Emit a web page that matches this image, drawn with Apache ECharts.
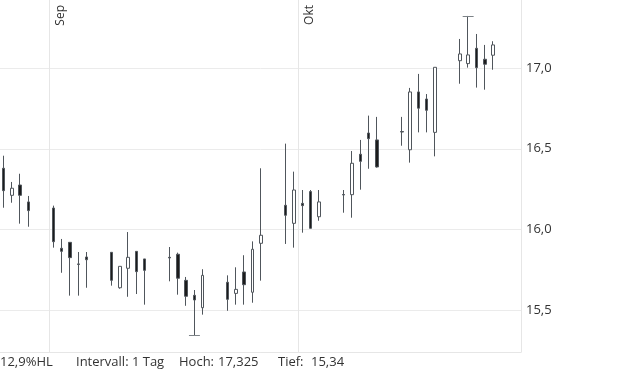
<!DOCTYPE html>
<html>
<head>
<meta charset="utf-8">
<script src="https://cdn.jsdelivr.net/npm/echarts@6/dist/echarts.min.js"></script>
<style>html,body{margin:0;padding:0;background:#fff}#c{width:620px;height:372px}</style>
</head>
<body>
<div id="c"></div>
<script>
// Trading days (categories)
const dates = [
  '2025-08-26','2025-08-27','2025-08-28','2025-08-29',
  '2025-09-01','2025-09-02','2025-09-03','2025-09-04','2025-09-05',
  '2025-09-08','2025-09-09','2025-09-10','2025-09-11','2025-09-12',
  '2025-09-15','2025-09-16','2025-09-17','2025-09-18','2025-09-19',
  '2025-09-22','2025-09-23','2025-09-24','2025-09-25','2025-09-26',
  '2025-09-29','2025-09-30','2025-10-01','2025-10-02','2025-10-03',
  '2025-10-06','2025-10-07','2025-10-08','2025-10-09','2025-10-10',
  '2025-10-13','2025-10-14','2025-10-15','2025-10-16','2025-10-17',
  '2025-10-20','2025-10-21','2025-10-22','2025-10-23','2025-10-24'
];
const openVals = [
  16.379,16.211,16.275,16.170,
  16.132,15.882,15.919,15.785,15.828,
  15.857,15.637,15.758,15.863,15.816,
  15.826,15.845,15.683,15.590,15.513,
  15.671,15.602,15.735,15.609,15.913,
  16.149,16.037,16.161,16.234,16.078,
  16.216,16.215,16.466,16.598,16.555,
  16.607,16.494,16.853,16.809,16.602,
  17.047,17.029,17.124,17.056,17.081
];
const closeVals = [
  16.240,16.255,16.211,16.116,
  15.923,15.863,15.824,15.782,15.811,
  15.683,15.770,15.826,15.737,15.745,
  15.822,15.696,15.584,15.561,15.714,
  15.565,15.627,15.656,15.876,15.963,
  16.087,16.244,16.147,16.006,16.170,
  16.213,16.410,16.422,16.563,16.387,
  16.604,16.853,16.752,16.739,17.006,
  17.089,17.083,17.004,17.025,17.145
];
const lowVals = [
  16.134,16.165,16.035,16.016,
  15.886,15.730,15.588,15.588,15.637,
  15.650,15.631,15.581,15.598,15.532,
  15.677,15.594,15.525,15.340,15.470,
  15.494,15.532,15.532,15.544,15.681,
  15.909,15.886,15.979,16.006,16.053,
  16.103,16.072,16.246,16.376,16.383,
  16.519,16.414,16.602,16.602,16.453,
  16.904,17.004,16.880,16.867,16.991
];
const highVals = [
  16.457,16.294,16.345,16.207,
  16.147,15.940,15.919,15.859,15.859,
  15.857,15.770,15.983,15.863,15.816,
  15.890,15.855,15.704,15.623,15.752,
  15.714,15.764,15.839,15.925,16.379,
  16.532,16.358,16.244,16.244,16.244,
  16.244,16.486,16.555,16.706,16.698,
  16.698,16.878,16.965,16.840,17.006,
  17.182,17.325,17.213,17.145,17.168
];
const monthStarts = ['2025-09-01','2025-10-01'];
const monthLabels = ['Sep','Okt'];
const yTicks = [15.5, 16.0, 16.5, 17.0];
const infoTexts = ['12,9%HL','Intervall: 1 Tag','Hoch:','17,325','Tief:','15,34'];
const highLow = { high: 17.325, highDate: '2025-10-21', low: 15.34, lowDate: '2025-09-18' };

const DAY = 86400000;
const ts = d => Date.parse(d + 'T00:00:00Z');
const candleData = dates.map((d, i) => [ts(d) + DAY / 2, openVals[i], closeVals[i], lowVals[i], highVals[i]]);
const xMin = ts('2025-09-01') - 5.94 * DAY;
const xMax = xMin + 62.81 * DAY;

const capHalf = 0.66 * DAY;
const markData = monthStarts.map((d, i) => ({ xAxis: ts(d), name: monthLabels[i] }));
markData.push([
  { coord: [ts(highLow.highDate) + DAY / 2 - capHalf, highLow.high], lineStyle: { color: '#7d8388' }, label: { show: false } },
  { coord: [ts(highLow.highDate) + DAY / 2 + capHalf, highLow.high] }
]);
markData.push([
  { coord: [ts(highLow.lowDate) + DAY / 2 - capHalf, highLow.low], lineStyle: { color: '#7d8388' }, label: { show: false } },
  { coord: [ts(highLow.lowDate) + DAY / 2 + capHalf, highLow.low] }
]);

const chart = echarts.init(document.getElementById('c'), null, { renderer: 'canvas' });
const FONT = '"Open Sans", "Noto Sans", sans-serif';
const textX = [0, 76, 179, 218, 278, 311];
chart.setOption({
  animation: false,
  backgroundColor: '#ffffff',
  grid: { left: 0, right: 99, top: 0, bottom: 20, containLabel: false },
  xAxis: {
    type: 'time', min: xMin, max: xMax,
    axisLine: { show: true, lineStyle: { color: '#e6e6e6', width: 1 } },
    axisTick: { show: false }, axisLabel: { show: false }, splitLine: { show: false }
  },
  yAxis: {
    type: 'value', position: 'right', min: 15.238, max: 17.424, splitNumber: 5,
    axisLine: { show: true, lineStyle: { color: '#e6e6e6', width: 1 } },
    axisTick: { show: false },
    axisLabel: {
      show: true, margin: 5, color: '#333333', fontSize: 13, fontFamily: FONT,
      showMinLabel: false, showMaxLabel: false,
      formatter: v => yTicks.some(t => Math.abs(t - v) < 1e-6) ? v.toFixed(1).replace('.', ',') : ''
    },
    splitLine: { show: true, showMaxLine: false, lineStyle: { color: '#ebebeb', width: 1 } }
  },
  series: [{
    type: 'candlestick',
    data: candleData,
    barWidth: 3,
    itemStyle: {
      color: '#ffffff', color0: '#1c1c1c',
      borderColor: '#50565c', borderColor0: '#50565c', borderWidth: 1
    },
    markLine: {
      silent: true, symbol: 'none', animation: false,
      lineStyle: { color: '#e6e6e6', width: 1, type: 'solid' },
      label: {
        show: true, position: 'insideEndBottom', distance: 5,
        formatter: p => p.name, color: '#333333', fontSize: 12, fontFamily: FONT
      },
      emphasis: { disabled: true },
      data: markData
    }
  }],
  graphic: infoTexts.map((t, i) => ({
    type: 'text', left: textX[i], top: 356,
    style: { text: t, fill: '#333333', font: '13px ' + FONT }
  }))
});
</script>
</body>
</html>
